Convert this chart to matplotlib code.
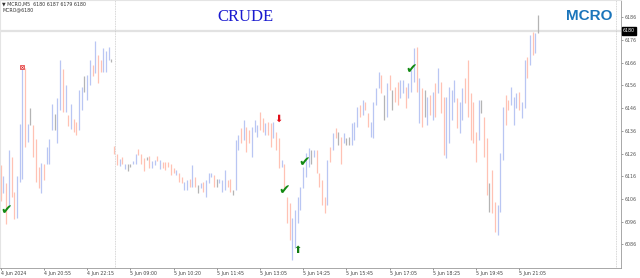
import matplotlib
matplotlib.use("Agg")
import matplotlib.pyplot as plt

# MCRO M5 bars: high, low, direction (u=up, d=down, n=flat)
highs_day1 = [6121, 6116, 6113, 6127.5, 6124.5, 6109, 6116, 6139, 6163.5, 6163.5,
              6139, 6146, 6138.5, 6132.5, 6120, 6122, 6121.5, 6129, 6132.5, 6148,
              6143.5, 6150.5, 6167, 6163, 6156, 6143, 6148, 6141, 6140, 6154,
              6155.5, 6160, 6160.5, 6167, 6165, 6175.5, 6169.5, 6167, 6172.5, 6171,
              6173, 6167.5]
lows_day1 = [6105, 6108.5, 6095, 6102.5, 6107, 6097, 6097.5, 6113.5, 6115, 6129,
             6131, 6138.5, 6124.5, 6113.5, 6111, 6108.5, 6114.5, 6121.5, 6121.5, 6136.5,
             6136.5, 6130.5, 6145, 6144.5, 6144.5, 6138, 6137, 6135.5, 6134, 6136.5,
             6145, 6153, 6149.5, 6156, 6160, 6161.5, 6157, 6162, 6162, 6162,
             6167, 6166.5]
dir_day1 = "dududduuud" + "unddduduuu" + "nuudududdu" + "unuududduu" + "un"

highs_day2 = [6129.5, 6126, 6123.5, 6124.5, 6121.5, 6121.5, 6121.5, 6122.5, 6126, 6128,
              6126, 6124, 6124.5, 6125, 6122.5, 6123, 6125,
              6123, 6122.4, 6122.4, 6122.4, 6121.6, 6119.5, 6118.7, 6117.3, 6115.8, 6113.6,
              6114.3, 6115, 6121, 6115.8, 6112.1, 6112.9, 6113.6, 6114.3, 6117.3, 6117.6,
              6116.5, 6115, 6115, 6114.3, 6118.7, 6114.3, 6115, 6110, 6132, 6134.1,
              6137.1, 6140.8, 6137.8, 6136.4, 6137.8, 6140.8, 6138.6, 6144.4, 6141.5, 6139.3,
              6140, 6139.3, 6140, 6135.6, 6132.7, 6123.1, 6121.6, 6107, 6104.1, 6097.5,
              6101.1, 6107, 6111.4, 6120.2, 6126.1, 6128.3,
              6127.5, 6127.5, 6127.5, 6117.3, 6114.3, 6107, 6123.1, 6129, 6134.9, 6137.1,
              6135.6, 6133.4, 6134.9, 6132.7, 6133.4, 6139.3, 6140, 6146.6, 6147.4, 6149.6,
              6148.8, 6143.7, 6140, 6148.8, 6154.7, 6162, 6160.6, 6151.8, 6156.9, 6160.6,
              6154, 6155.4, 6157.6, 6158.4, 6158.4, 6155.4, 6156.9, 6162.8, 6172.3, 6173,
              6159.1, 6154.7, 6154, 6151, 6151.8, 6153.2, 6156.9, 6163.5, 6157.6, 6151,
              6151, 6155.4, 6154, 6158.4, 6150.3, 6148.8, 6154.7, 6159.1, 6167.2,
              6152.5, 6148.8, 6135.6, 6149.6, 6149.6, 6142.2, 6132.7, 6112.9, 6118.7, 6104.8,
              6103.3, 6126.1, 6146.6, 6151.8, 6149.6, 6155.4, 6151, 6152.5, 6153.2, 6148.8,
              6167.2, 6168.7, 6178.2, 6179.7, 6179, 6187]
lows_day2 = [6126, 6121, 6120.5, 6121.5, 6119, 6118.5, 6120, 6121.5, 6121.5, 6125.5,
             6121.5, 6118.5, 6123, 6119.5, 6119.5, 6121, 6122.5,
             6119, 6119.5, 6118.7, 6120.2, 6116.5, 6117.3, 6116.5, 6113.6, 6112.9, 6110,
             6110, 6111.4, 6111.4, 6111.4, 6108.8, 6110.7, 6109.2, 6106.7, 6112.9, 6115.8,
             6111.4, 6111.4, 6112.9, 6109.2, 6110, 6111.4, 6109.2, 6107.7, 6110, 6127.5,
             6130.5, 6132, 6126.8, 6130.5, 6124.6, 6135.6, 6133.4, 6136.4, 6135.6, 6134.1,
             6134.1, 6129, 6132.7, 6127.5, 6119.5, 6120.2, 6110, 6095.3, 6087.9, 6079.1,
             6084.2, 6095.3, 6101.1, 6110.7, 6115.8, 6120.2,
             6121.6, 6124.6, 6117.3, 6111.4, 6103.3, 6099.6, 6103.3, 6122.4, 6127.5, 6132.7,
             6129.7, 6121.6, 6130.5, 6129.7, 6129.7, 6129.7, 6132, 6137.8, 6142.2, 6143,
             6145.2, 6137.8, 6133.4, 6132.7, 6147.4, 6154.7, 6152.5, 6140.8, 6142.2, 6154,
             6145.2, 6148.8, 6147.4, 6150.3, 6152.5, 6145.9, 6150.3, 6153.2, 6157.6, 6153.2,
             6139.3, 6137.8, 6142.2, 6138.6, 6143, 6140.8, 6142.2, 6152.5, 6143.7, 6125.3,
             6123.9, 6130.5, 6140.8, 6148.8, 6137.1, 6134.9, 6140.8, 6148.1, 6142.2,
             6132, 6130.5, 6122.4, 6132, 6143.7, 6124.6, 6107.7, 6100.4, 6099.6, 6091.6,
             6090.1, 6100.4, 6123.1, 6138.6, 6145.2, 6147.4, 6138.6, 6145.9, 6145.2, 6141.5,
             6145.9, 6159.1, 6165, 6169.4, 6170.1, 6179]
dir_day2 = ("ddudunnuudddnduud"
            + "uddddduddu" + "ududnuduuu" + "dnuuuddnuu" + "dudduuuddu" + "dduddudddu" + "uuuuuu"
            + "nuddddudud" + "ndunnuuudu" + "dduuuudnud" + "ndduuduuud" + "udnudududd" + "uuuuduudd"
            + "dddunddndd" + "uuudduuudu" + "ududun")

day_labels = ["4 Jun 2024", "4 Jun 20:55", "4 Jun 22:15", "5 Jun 09:00", "5 Jun 10:20",
              "5 Jun 11:45", "5 Jun 13:05", "5 Jun 14:25", "5 Jun 15:45", "5 Jun 17:05",
              "5 Jun 18:25", "5 Jun 19:45", "5 Jun 21:05"]
price_ticks = [6086, 6096, 6106, 6116, 6126, 6136, 6146, 6156, 6166, 6176, 6186]
last_price = 6180

highs = highs_day1 + highs_day2
lows = lows_day1 + lows_day2
dirs = dir_day1 + dir_day2

# signal marks: (bar, price)
checks = [(2, 6101), (105, 6109.7), (112.5, 6122.3), (152, 6163)]
sell_arrow = (103, 6141.2)
buy_arrow = (110, 6083.5)
x_mark = (8, 6164.3)

colors = {"u": "#b9c6f3", "d": "#ffc2b4", "n": "#b4b4b4"}

fig = plt.figure(figsize=(6.4, 2.78), dpi=100)
ax = fig.add_axes([0.0, 0.036, 0.9703, 0.964])

for i in range(len(highs)):
    ax.vlines(i, lows[i], highs[i], color=colors[dirs[i]], lw=0.9)

ax.set_xlim(-0.26, 229.7)
ax.set_ylim(6075.6, 6193.6)

# current price line + session separators
ax.axhline(last_price, color="#e2e2e2", lw=1.6, zorder=0)
ax.axvline(42.2, color="#c8c8c8", lw=0.6, ls=(0, (1, 1)))
ax.axvline(227.9, color="#c8c8c8", lw=0.6, ls=(0, (1, 1)))

for bx, py in checks:
    ax.text(bx, py, "\u2714", color="#138a13", fontsize=10, ha="center", va="center")
ax.text(sell_arrow[0], sell_arrow[1], "\u2b07", color="#e0101a", fontsize=7,
        ha="center", va="center")
ax.text(buy_arrow[0], buy_arrow[1], "\u2b06", color="#127a12", fontsize=7,
        ha="center", va="center")
ax.plot(x_mark[0], x_mark[1], marker="s", ms=2.5, mfc="white", mec="#e02020", mew=0.5)
ax.plot(x_mark[0], x_mark[1], marker="x", ms=1.8, color="#e02020", mew=0.5)

# axes styling
for s in ["top", "left"]:
    ax.spines[s].set_color("#e4e4e4")
for s in ["right", "bottom"]:
    ax.spines[s].set_color("#9a9a9a")
    ax.spines[s].set_linewidth(0.6)

ax.yaxis.tick_right()
ax.set_yticks(price_ticks)
ax.set_yticklabels([str(p) for p in price_ticks])
ax.tick_params(axis="y", length=1.5, width=0.4, labelsize=3.4, pad=1,
               colors="#555555")
ax.set_xticks([16 * k for k in range(len(day_labels))])
ax.set_xticklabels(day_labels, ha="left")
ax.tick_params(axis="x", length=1.5, width=0.4, labelsize=3.4, pad=1,
               colors="#444444")

ax.text(1.003, last_price, str(last_price), transform=ax.get_yaxis_transform(),
        fontsize=3.4, color="white", va="center", ha="left",
        bbox=dict(boxstyle="square,pad=0.25", fc="black", ec="black"), clip_on=False)

ax.text(0.004, 0.995, "\u25bc MCRO,M5  6180 6187 6179 6180", transform=ax.transAxes,
        fontsize=3.4, color="#333333", va="top", ha="left")
ax.text(0.004, 0.972, "MCRO@6180", transform=ax.transAxes,
        fontsize=3.4, color="#333333", va="top", ha="left")

fig.text(0.339, 0.938, "CRUDE", fontsize=12, color="#1a1ad0",
         family="Liberation Serif", ha="left", va="center")
fig.text(0.957, 0.943, "MCRO", fontsize=11, color="#1b75bb", fontweight="bold",
         family="Liberation Sans", ha="right", va="center")

fig.savefig("out.png", dpi=100)
